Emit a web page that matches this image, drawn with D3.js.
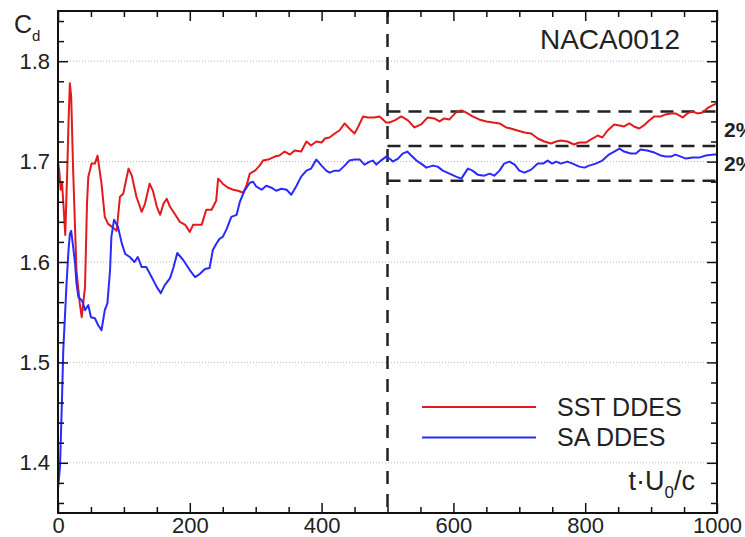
<!DOCTYPE html>
<html lang="en">
<head>
    <meta charset="UTF-8">
    <title>NACA0012 Cd history</title>
    <script src="https://d3js.org/d3.v7.min.js"></script>
    <style>
        body { margin: 0; background: #fff; }
        text { font-family: "Liberation Sans", Arial, sans-serif; fill: #222; }
    </style>
</head>
<body>
<div id="chart"></div>
<script>
    // SST DDES (red)
    const sstT = [0,2,4,6,8,11,14,16,18,20,23,28,33,36,41,44,46,51,56,60,66,71,76,84,89,94,99,107,112,119,127,132,139,144,150,155,160,165,170,177,185,193,200,205,218,225,233,240,243,250,258,266,273,281,286,291,299,306,311,319,329,336,344,352,359,369,377,384,392,400,405,412,420,427,435,442,450,455,463,470,480,488,498,503,511,521,531,541,551,561,571,579,586,594,604,612,619,629,639,650,660,670,680,687,697,708,718,728,738,748,756,763,773,783,791,801,811,819,826,834,844,852,859,867,874,882,889,897,905,915,922,930,937,948,955,963,970,978,985,993,1000];
    const sstCd = [1.700,1.690,1.672,1.680,1.660,1.627,1.690,1.740,1.778,1.765,1.691,1.592,1.559,1.545,1.575,1.658,1.685,1.698,1.698,1.706,1.678,1.645,1.638,1.634,1.631,1.665,1.668,1.693,1.686,1.665,1.650,1.658,1.678,1.671,1.655,1.647,1.658,1.663,1.655,1.648,1.640,1.637,1.630,1.637,1.637,1.652,1.652,1.661,1.683,1.678,1.674,1.672,1.671,1.669,1.676,1.688,1.691,1.696,1.701,1.702,1.705,1.706,1.710,1.707,1.711,1.710,1.720,1.716,1.720,1.719,1.723,1.724,1.728,1.731,1.738,1.733,1.728,1.734,1.745,1.744,1.744,1.745,1.739,1.739,1.741,1.745,1.741,1.734,1.737,1.744,1.743,1.740,1.743,1.742,1.749,1.751,1.749,1.745,1.742,1.740,1.739,1.738,1.734,1.733,1.731,1.729,1.728,1.723,1.720,1.718,1.720,1.721,1.720,1.717,1.719,1.719,1.723,1.726,1.724,1.731,1.737,1.736,1.735,1.738,1.735,1.733,1.736,1.741,1.745,1.745,1.747,1.748,1.748,1.744,1.748,1.750,1.748,1.749,1.753,1.756,1.758];

    // SA DDES (blue)
    const saT = [0,3,6,8,13,16,18,20,23,26,28,31,36,38,41,46,50,56,61,66,71,75,79,81,85,91,97,102,109,116,121,127,134,142,150,156,162,170,175,181,190,200,208,215,223,230,235,240,245,250,256,263,271,276,283,291,296,301,309,316,324,331,339,347,354,362,369,377,384,392,400,407,412,420,427,435,442,450,458,465,473,478,483,490,498,503,508,516,523,530,536,544,551,559,569,576,584,594,604,612,617,622,629,637,647,655,662,670,677,685,693,700,708,718,728,736,743,750,756,763,773,781,791,799,806,816,826,836,844,852,859,869,877,884,894,905,915,922,930,937,945,953,963,973,983,996,1000];
    const saCd = [1.374,1.396,1.462,1.512,1.579,1.612,1.628,1.631,1.615,1.598,1.579,1.565,1.562,1.559,1.552,1.557,1.545,1.544,1.537,1.532,1.552,1.559,1.592,1.625,1.642,1.635,1.618,1.608,1.605,1.600,1.605,1.595,1.595,1.585,1.575,1.569,1.577,1.584,1.594,1.609,1.602,1.592,1.585,1.588,1.593,1.594,1.612,1.618,1.623,1.625,1.633,1.645,1.647,1.660,1.671,1.679,1.680,1.675,1.672,1.676,1.674,1.671,1.673,1.672,1.667,1.676,1.685,1.691,1.693,1.702,1.696,1.691,1.689,1.691,1.691,1.696,1.701,1.702,1.702,1.697,1.700,1.701,1.697,1.701,1.705,1.703,1.700,1.703,1.708,1.710,1.706,1.701,1.698,1.694,1.696,1.695,1.691,1.688,1.685,1.683,1.688,1.693,1.691,1.687,1.686,1.688,1.686,1.691,1.698,1.700,1.697,1.691,1.689,1.692,1.698,1.698,1.701,1.698,1.700,1.698,1.700,1.698,1.695,1.694,1.696,1.698,1.701,1.707,1.710,1.713,1.710,1.708,1.708,1.712,1.711,1.709,1.706,1.705,1.705,1.707,1.705,1.703,1.704,1.704,1.706,1.707,1.707];

    const seriesNames = ["SST DDES", "SA DDES"];
    const seriesColors = ["#e31a1c", "#2a2aff"];

    const xMajor = [0, 200, 400, 600, 800, 1000];
    const yMajor = [1.4, 1.5, 1.6, 1.7, 1.8];
    const averageStart = 500;
    const bandLevels = [1.750, 1.7155, 1.681];
    const bandLabels = ["2%", "2%"];

    function createChart(width, height) {
        const margin = {top: 11, right: 28, bottom: 24, left: 58};
        const iw = width - margin.left - margin.right;
        const ih = height - margin.top - margin.bottom;

        const svg = d3.select("#chart").append("svg")
            .attr("width", width)
            .attr("height", height);

        const x = d3.scaleLinear().domain([0, 1000]).range([margin.left, margin.left + iw]);
        const y = d3.scaleLinear().domain([1.35, 1.85]).range([margin.top + ih, margin.top]);

        svg.append("clipPath").attr("id", "clip")
            .append("rect")
            .attr("x", margin.left).attr("y", margin.top)
            .attr("width", iw).attr("height", ih);

        // dotted grid
        svg.append("g").selectAll("line")
            .data(yMajor).join("line")
            .attr("x1", margin.left).attr("x2", margin.left + iw)
            .attr("y1", d => y(d)).attr("y2", d => y(d))
            .attr("stroke", "#b8b8b8")
            .attr("stroke-width", 1)
            .attr("stroke-dasharray", "1,2");

        // dashed reference lines
        const ref = svg.append("g").attr("stroke", "#222").attr("stroke-width", 2.5);
        ref.append("line")
            .attr("x1", x(averageStart)).attr("x2", x(averageStart))
            .attr("y1", margin.top).attr("y2", margin.top + ih)
            .attr("stroke-dasharray", "13,10");
        ref.selectAll("line.band")
            .data(bandLevels).join("line")
            .attr("class", "band")
            .attr("x1", x(averageStart)).attr("x2", x(1000))
            .attr("y1", d => y(d)).attr("y2", d => y(d))
            .attr("stroke-dasharray", "13,8");

        // series
        const line = d3.line().x(d => x(d[0])).y(d => y(d[1]));
        const series = [d3.zip(sstT, sstCd), d3.zip(saT, saCd)];
        svg.append("g").attr("clip-path", "url(#clip)")
            .selectAll("path")
            .data(series).join("path")
            .attr("d", line)
            .attr("fill", "none")
            .attr("stroke", (d, i) => seriesColors[i])
            .attr("stroke-width", 2)
            .attr("stroke-linejoin", "round");

        // axes, ticks inward
        const xMinor = d3.range(0, 1001, 50).filter(v => !xMajor.includes(v));
        const yMinor = d3.range(1.36, 1.85, 0.02).map(v => +v.toFixed(2)).filter(v => !yMajor.some(m => Math.abs(m - v) < 1e-6));

        function drawAxis(axis, translate) {
            const g = svg.append("g").attr("transform", translate).call(axis);
            g.select(".domain").remove();
            g.selectAll("line").attr("stroke", "#111").attr("stroke-width", 1.5);
            g.selectAll("text").attr("fill", "#222").attr("font-size", 22)
                .attr("font-family", '"Liberation Sans", Arial, sans-serif');
            return g;
        }

        drawAxis(d3.axisBottom(x).tickValues(xMajor).tickSize(-10).tickPadding(4).tickFormat(d3.format("d")),
            `translate(0,${margin.top + ih})`);
        drawAxis(d3.axisBottom(x).tickValues(xMinor).tickSize(-6).tickFormat(""),
            `translate(0,${margin.top + ih})`);
        drawAxis(d3.axisTop(x).tickValues(xMajor).tickSize(-10).tickFormat(""),
            `translate(0,${margin.top})`);
        drawAxis(d3.axisTop(x).tickValues(xMinor).tickSize(-6).tickFormat(""),
            `translate(0,${margin.top})`);

        drawAxis(d3.axisLeft(y).tickValues(yMajor).tickSize(-10).tickPadding(8).tickFormat(d3.format(".1f")),
            `translate(${margin.left},0)`);
        drawAxis(d3.axisLeft(y).tickValues(yMinor).tickSize(-6).tickFormat(""),
            `translate(${margin.left},0)`);
        drawAxis(d3.axisRight(y).tickValues(yMajor).tickSize(-10).tickFormat(""),
            `translate(${margin.left + iw},0)`);
        drawAxis(d3.axisRight(y).tickValues(yMinor).tickSize(-6).tickFormat(""),
            `translate(${margin.left + iw},0)`);

        // frame
        svg.append("rect")
            .attr("x", margin.left).attr("y", margin.top)
            .attr("width", iw).attr("height", ih)
            .attr("fill", "none")
            .attr("stroke", "#111")
            .attr("stroke-width", 2);

        // axis titles
        const cd = svg.append("text").attr("x", 14).attr("y", 33).attr("font-size", 25);
        cd.append("tspan").text("C");
        cd.append("tspan").attr("font-size", 15).attr("dy", 8).text("d");

        const tl = svg.append("text").attr("x", 695).attr("y", 490)
            .attr("text-anchor", "end").attr("font-size", 27);
        tl.append("tspan").text("t·U");
        tl.append("tspan").attr("font-size", 17).attr("dy", 8).text("0");
        tl.append("tspan").attr("dy", -8).text("/c");

        svg.append("text").attr("x", 680).attr("y", 49)
            .attr("text-anchor", "end").attr("font-size", 28).text("NACA0012");

        // band labels
        svg.selectAll("text.band")
            .data(bandLabels).join("text")
            .attr("class", "band")
            .attr("x", 724)
            .attr("y", (d, i) => (y(bandLevels[i]) + y(bandLevels[i + 1])) / 2 + 8)
            .attr("font-size", 21)
            .attr("font-weight", "bold")
            .text(d => d);

        // legend
        const legend = svg.append("g");
        seriesNames.forEach((name, i) => {
            const ly = 407 + i * 30.5;
            legend.append("line")
                .attr("x1", 422).attr("x2", 536)
                .attr("y1", ly).attr("y2", ly)
                .attr("stroke", seriesColors[i])
                .attr("stroke-width", 2);
            legend.append("text")
                .attr("x", 557).attr("y", ly + 8.5)
                .attr("font-size", 25)
                .text(name);
        });

        return svg.node();
    }

    document.addEventListener("DOMContentLoaded", () => {
        createChart(745, 537);
    });
</script>
</body>
</html>
